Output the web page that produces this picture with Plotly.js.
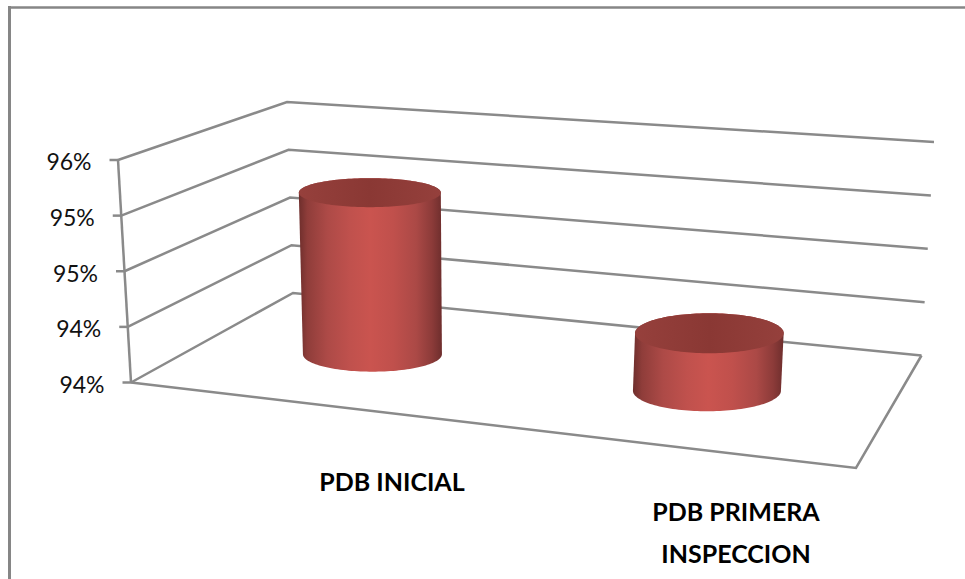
<!DOCTYPE html>
<html>
<head>
<meta charset="utf-8">
<script src="https://cdn.plot.ly/plotly-3.0.1.min.js"></script>
<style>html,body{margin:0;padding:0;background:#fff}#chart{width:965px;height:579px}</style>
</head>
<body>
<div id="chart"></div>
<script>
// Chart values
const categoryLines = [["PDB INICIAL"], ["PDB PRIMERA", "INSPECCION"]];
const values = [95.53, 94.52];
const tickValues = [94, 94.5, 95, 95.5, 96];
const tickText = ["94%", "94%", "95%", "95%", "96%"];

// View geometry of the 3D box: screen position of each floor corner and its drift per unit of value
const BASE = 94;
const CORNERS = {
  fl: {x: 131,   y: 382.5, dx: -6.5,  dy: -111.25},
  fr: {x: 856,   y: 468,   dx: 10,    dy: -120},
  bl: {x: 293,   y: 293,   dx: -3,    dy: -95.5},
  br: {x: 921.5, y: 355.5, dx: 6.25,  dy: -106.75}
};
const W = 965, H = 579;
const PX_PER_UNIT = 111.25;
const Y_ZERO_PX = 382.5;
const toAxisY = py => BASE + (Y_ZERO_PX - py) / PX_PER_UNIT;

// c runs along the categories, d runs from front to back, v is the value
function project(c, d, v) {
  const t = v - BASE;
  const at = k => {
    const p = CORNERS[k];
    return [p.x + p.dx * t, p.y + p.dy * t];
  };
  const mix = (a, b, f) => [a[0] + (b[0] - a[0]) * f, a[1] + (b[1] - a[1]) * f];
  return mix(mix(at('fl'), at('fr'), c), mix(at('bl'), at('br'), c), d);
}

const traces = [];
const GRID = '#8a8a8a';
function polyline(pts, width, color) {
  traces.push({
    type: 'scatter', mode: 'lines', hoverinfo: 'skip', cliponaxis: false,
    x: pts.map(p => p[0]), y: pts.map(p => toAxisY(p[1])),
    line: {color: color || GRID, width: width || 2.5, simplify: false}
  });
}

// Side and back wall gridlines, one per axis tick
tickValues.forEach(v => {
  polyline([project(0, 0, v), project(0, 1, v), project(1, 1, v)]);
});
// Slanted vertical axis and its tick marks
polyline([project(0, 0, tickValues[tickValues.length - 1]), project(0, 0, tickValues[0])]);
tickValues.forEach(v => {
  const p = project(0, 0, v);
  polyline([[p[0] - 8.5, p[1]], p]);
});
// Floor outline
polyline([project(0, 0, BASE), project(1, 0, BASE), project(1, 1, BASE)]);

// Tick labels follow the slant of the axis
const tickPts = tickValues.map(v => {
  const p = project(0, 0, v);
  return [p[0] - 26.5, p[1] + 4.5];
});
traces.push({
  type: 'scatter', mode: 'text', hoverinfo: 'skip', cliponaxis: false,
  x: tickPts.map(p => p[0]), y: tickPts.map(p => toAxisY(p[1])),
  text: tickText, textposition: 'middle left',
  textfont: {family: 'Lato, sans-serif', size: 23, color: '#111'}
});

// Cylinders: position on the floor, plus ellipse radii at foot and top
const slots = [0.235, 0.73];
const DEPTH = 0.51;
const footRadius = [[69.5, 17.5], [74, 20.5]];
const topRadius = [[71, 14.5], [74.3, 20]];
const BODY_SCALE = [
  [0, '#6e2e2c'], [0.06, '#8f3d3a'], [0.2, '#ad4a47'], [0.36, '#c0514d'],
  [0.5, '#ca544f'], [0.66, '#c0504c'], [0.82, '#ab4946'], [0.93, '#8c3b39'], [1, '#6e2e2d']
];
const TOP_SCALE = [[0, '#96403c'], [0.5, '#8a3834'], [1, '#95403c']];

function arc(center, radius, from, to, steps) {
  const pts = [];
  for (let i = 0; i <= steps; i++) {
    const a = from + (to - from) * i / steps;
    pts.push([center[0] + radius[0] * Math.cos(a), center[1] + radius[1] * Math.sin(a)]);
  }
  return pts;
}
function filled(pts, scale) {
  traces.push({
    type: 'scatter', mode: 'lines', hoverinfo: 'skip', cliponaxis: false,
    x: pts.map(p => p[0]), y: pts.map(p => toAxisY(p[1])),
    fill: 'toself',
    fillgradient: {type: 'horizontal', colorscale: scale},
    line: {width: 0, simplify: false}
  });
}
values.forEach((v, i) => {
  const foot = project(slots[i], DEPTH, BASE);
  const top = project(slots[i], DEPTH, v);
  // The side runs under the lid so no light seam shows along its front edge
  const lowerFoot = arc(foot, footRadius[i], Math.PI, 0, 72);
  const upperTop = arc(top, topRadius[i], 0, -Math.PI, 72);
  filled(lowerFoot.concat(upperTop), BODY_SCALE);
  filled(arc(top, topRadius[i], 0, 2 * Math.PI, 144), TOP_SCALE);
});

// Category captions sit under the floor, one text point per line
const captionAnchors = [[[392, 485]], [[736, 515], [736, 557]]];
const capX = [], capY = [], capT = [];
categoryLines.forEach((lines, i) => lines.forEach((line, j) => {
  capX.push(captionAnchors[i][j][0]);
  capY.push(toAxisY(captionAnchors[i][j][1]));
  capT.push(line);
}));
traces.push({
  type: 'scatter', mode: 'text', hoverinfo: 'skip', cliponaxis: false,
  x: capX, y: capY, text: capT, textposition: 'middle center',
  textfont: {family: 'Lato, sans-serif', size: 25, color: '#000', weight: 700}
});

const layout = {
  width: W, height: H,
  margin: {l: 0, r: 0, t: 0, b: 0},
  paper_bgcolor: '#fff', plot_bgcolor: '#fff',
  showlegend: false,
  xaxis: {range: [0, W], visible: false, fixedrange: true},
  yaxis: {range: [toAxisY(H), toAxisY(0)], visible: false, fixedrange: true},
  // Frame around the chart, open on the right and at the bottom
  shapes: [
    {type: 'line', xref: 'paper', yref: 'paper', x0: 9.5 / W, x1: 9.5 / W, y0: 0, y1: 1 - 6 / H,
     line: {color: '#868686', width: 3}},
    {type: 'line', xref: 'paper', yref: 'paper', x0: 8 / W, x1: 1, y0: 1 - 7.5 / H, y1: 1 - 7.5 / H,
     line: {color: '#868686', width: 2.5}}
  ]
};
Plotly.newPlot('chart', traces, layout, {displayModeBar: false, staticPlot: true});
</script>
</body>
</html>
